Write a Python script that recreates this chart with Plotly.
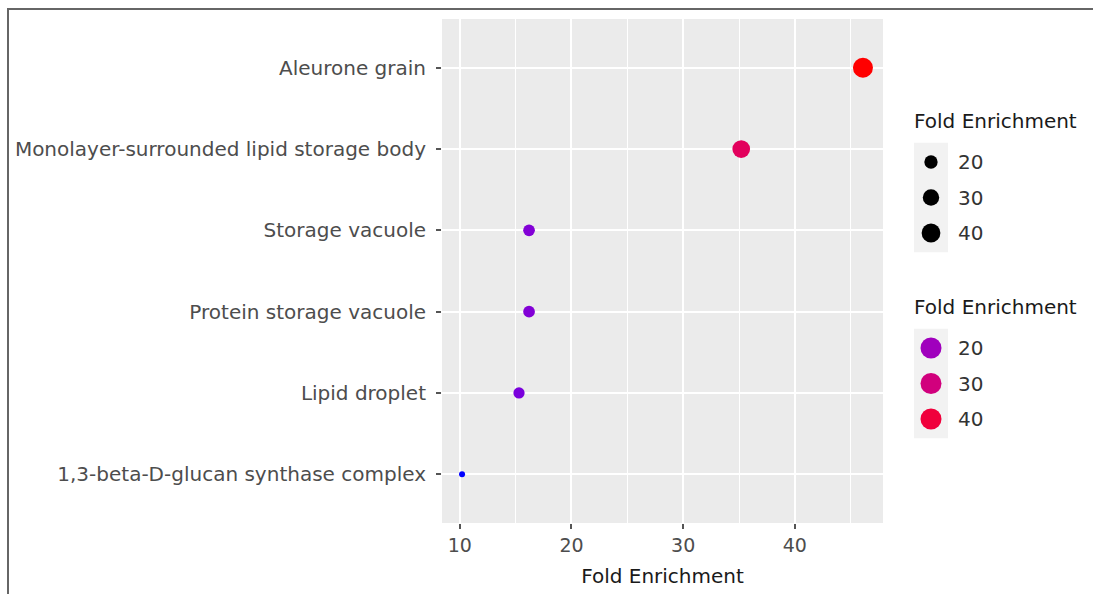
import numpy as np
import plotly.graph_objects as go

# ---------------- data ----------------
categories = [
    "Aleurone grain",
    "Monolayer-surrounded lipid storage body",
    "Storage vacuole",
    "Protein storage vacuole",
    "Lipid droplet",
    "1,3-beta-D-glucan synthase complex",
]
fold_enrichment = [46.1, 35.2, 16.2, 16.2, 15.3, 10.2]
legend_breaks = [20, 30, 40]
x_ticks = [10, 20, 30, 40]

# ---------------- scales (ggplot-like) ----------------
vmin, vmax = min(fold_enrichment), max(fold_enrichment)


def _srgb_to_lab(rgb):
    c = np.array(rgb, dtype=float) / 255.0
    c = np.where(c <= 0.04045, c / 12.92, ((c + 0.055) / 1.055) ** 2.4)
    m = np.array([[0.4124, 0.3576, 0.1805],
                  [0.2126, 0.7152, 0.0722],
                  [0.0193, 0.1192, 0.9505]])
    xyz = m @ c
    xyz = xyz / np.array([0.95047, 1.0, 1.08883])
    f = np.where(xyz > 0.008856, np.cbrt(xyz), 7.787 * xyz + 16 / 116)
    return np.array([116 * f[1] - 16, 500 * (f[0] - f[1]), 200 * (f[1] - f[2])])


def _lab_to_srgb(lab):
    L, a, b = lab
    fy = (L + 16) / 116
    fx = fy + a / 500
    fz = fy - b / 200
    f = np.array([fx, fy, fz])
    xyz = np.where(f ** 3 > 0.008856, f ** 3, (f - 16 / 116) / 7.787)
    xyz = xyz * np.array([0.95047, 1.0, 1.08883])
    m = np.array([[3.2406, -1.5372, -0.4986],
                  [-0.9689, 1.8758, 0.0415],
                  [0.0557, -0.2040, 1.0570]])
    c = m @ xyz
    c = np.where(c <= 0.0031308, 12.92 * c, 1.055 * np.clip(c, 0, None) ** (1 / 2.4) - 0.055)
    c = np.clip(c, 0, 1)
    return "rgb(%d,%d,%d)" % tuple(np.round(c * 255).astype(int))


LAB_LOW = _srgb_to_lab((0, 0, 255))
LAB_HIGH = _srgb_to_lab((255, 0, 0))


def color_of(v):
    t = (v - vmin) / (vmax - vmin)
    return _lab_to_srgb(LAB_LOW + (LAB_HIGH - LAB_LOW) * t)


def size_of(v):
    t = (v - vmin) / (vmax - vmin)
    s = 1 + 5 * np.sqrt(max(t, 0))
    return 3.2 + 2.8 * s


# ---------------- figure geometry (pixels) ----------------
W, H = 1094, 594
L_M, T_M, B_M = 442, 19, 71
panel_right = 883
plot_w = W - L_M
main_frac = (panel_right - L_M) / plot_w

FONT = "DejaVu Sans"
TICK_COL = "#4d4d4d"
TITLE_COL = "#1a1a1a"

fig = go.Figure()

fig.add_trace(go.Scatter(
    x=fold_enrichment,
    y=categories,
    mode="markers",
    marker=dict(
        size=[size_of(v) for v in fold_enrichment],
        color=[color_of(v) for v in fold_enrichment],
        line=dict(width=0),
        opacity=1,
    ),
    showlegend=False,
    hoverinfo="x+y",
))

# ---------------- manual ggplot-style legends on a helper axis ----------------
leg_x_dot = 931
leg_x_text = 956
size_rows_y0, color_rows_y0, row_gap = 162, 348, 35.5

fig.add_trace(go.Scatter(
    x=[leg_x_dot] * len(legend_breaks),
    y=[size_rows_y0 + i * row_gap for i in range(len(legend_breaks))],
    mode="markers",
    marker=dict(size=[size_of(v) for v in legend_breaks], color="#000000",
                line=dict(width=0), opacity=1),
    xaxis="x2", yaxis="y2", showlegend=False, hoverinfo="skip",
))
fig.add_trace(go.Scatter(
    x=[leg_x_dot] * len(legend_breaks),
    y=[color_rows_y0 + i * row_gap for i in range(len(legend_breaks))],
    mode="markers",
    marker=dict(size=21, color=[color_of(v) for v in legend_breaks],
                line=dict(width=0), opacity=1),
    xaxis="x2", yaxis="y2", showlegend=False, hoverinfo="skip",
))

shapes = []
annotations = []
for y0 in (size_rows_y0, color_rows_y0):
    shapes.append(dict(type="rect", xref="x2", yref="y2",
                       x0=914, x1=948, y0=y0 - row_gap / 2 - 1.5,
                       y1=y0 + row_gap * (len(legend_breaks) - 0.5) + 1.5,
                       fillcolor="#f2f2f2", line=dict(width=0), layer="below"))
    annotations.append(dict(xref="x2", yref="y2", x=912, y=y0 - 41,
                            text="Fold Enrichment", showarrow=False,
                            xanchor="left", yanchor="middle",
                            font=dict(family=FONT, size=20, color=TITLE_COL)))
    for i, v in enumerate(legend_breaks):
        annotations.append(dict(xref="x2", yref="y2", x=leg_x_text, y=y0 + i * row_gap,
                                text=str(v), showarrow=False,
                                xanchor="left", yanchor="middle",
                                font=dict(family=FONT, size=20, color="#333333")))


# ---------------- outer border (top + left) ----------------
def px_x(p):
    return (p - L_M) / plot_w


def px_y(p):
    return (H - B_M - p) / (H - B_M - T_M)


shapes.append(dict(type="line", xref="paper", yref="paper",
                   x0=px_x(7), x1=px_x(1093), y0=px_y(9), y1=px_y(9),
                   line=dict(color="#666666", width=2)))
shapes.append(dict(type="line", xref="paper", yref="paper",
                   x0=px_x(8), x1=px_x(8), y0=px_y(8), y1=px_y(600),
                   line=dict(color="#666666", width=2)))

fig.update_layout(
    width=W, height=H,
    margin=dict(l=L_M, r=0, t=T_M, b=B_M),
    paper_bgcolor="white",
    plot_bgcolor="white",
    font=dict(family=FONT, size=18, color=TICK_COL),
    shapes=shapes,
    annotations=annotations,
    xaxis=dict(
        domain=[0, main_frac],
        range=[vmin - 0.05 * (vmax - vmin), vmax + 0.05 * (vmax - vmin)],
        tickmode="array", tickvals=x_ticks, ticktext=[str(t) for t in x_ticks],
        ticks="outside", ticklen=5, tickwidth=1.5, tickcolor="#555555",
        tickfont=dict(family=FONT, size=19, color=TICK_COL),
        showgrid=True, gridcolor="white", gridwidth=2.2,
        minor=dict(tickmode="array", tickvals=[15, 25, 35, 45], showgrid=True,
                   gridcolor="white", gridwidth=1.1, ticks=""),
        zeroline=False, showline=False,
        title=dict(text="Fold Enrichment", standoff=14,
                   font=dict(family=FONT, size=20, color=TITLE_COL)),
        fixedrange=True,
    ),
    yaxis=dict(
        type="category",
        categoryorder="array", categoryarray=categories[::-1],
        range=[-0.6, len(categories) - 0.4],
        ticks="outside", ticklen=5, tickwidth=1.5, tickcolor="#555555",
        ticklabelstandoff=6,
        tickfont=dict(family=FONT, size=20, color=TICK_COL),
        showgrid=True, gridcolor="white", gridwidth=2.2,
        zeroline=False, showline=False,
        fixedrange=True,
    ),
    xaxis2=dict(domain=[main_frac, 1], range=[panel_right, W], visible=False,
                anchor="y2", fixedrange=True),
    yaxis2=dict(domain=[0, 1], range=[H - B_M, T_M], visible=False,
                anchor="x2", fixedrange=True),
)

# panel background only behind the main axes
fig.add_shape(type="rect", xref="x domain", yref="y domain", x0=0, x1=1, y0=0, y1=1,
              fillcolor="#ebebeb", line=dict(width=0), layer="below")

fig.write_html("out.html", config={"displayModeBar": False})
